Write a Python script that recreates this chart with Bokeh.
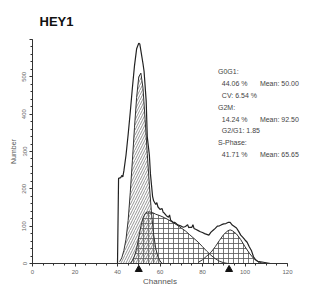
from bokeh.plotting import figure
from bokeh.models import Range1d, SingleIntervalTicker
from bokeh.embed import file_html
from bokeh.resources import INLINE

# ---- data ----
hist_ch = [38, 40, 40.5, 41.5, 42, 42.5, 43, 44, 45, 46, 47, 48, 49, 50, 50.5, 51, 52, 52.5,
           53.5, 54, 55, 55.5, 56.5, 57, 58, 58.5, 59, 60, 61, 61.5, 62, 63, 64, 64.5, 65, 66,
           67, 68, 69, 70, 71, 72, 73, 73.5, 74, 75, 75.5, 76, 77, 78, 79, 80, 81, 82, 83, 84,
           85, 86, 87, 88, 89, 90, 91, 92, 93, 94, 95, 96, 97, 98, 99, 100, 101, 102, 103, 104,
           105, 106, 108, 110, 112]
hist_n = [0, 0, 228, 230, 236, 232, 248, 290, 345, 405, 470, 530, 575, 590, 588, 570, 535, 515,
          435, 340, 290, 240, 180, 168, 158, 163, 152, 145, 147, 137, 135, 128, 124, 130, 116, 111,
          110, 105, 102, 100, 97, 99, 104, 96, 97, 97, 104, 94, 91, 88, 85, 83, 80, 78, 76, 84,
          89, 94, 100, 101, 104, 106, 107, 110, 110, 103, 99, 95, 86, 76, 70, 63, 57, 45, 35, 18,
          10, 6, 4, 2, 0]

g1_ch = [41, 42, 43, 44, 45, 46, 47, 48, 49, 50, 51, 52, 53, 54, 55, 56, 57, 58, 59, 60, 61]
g1_n = [5, 15, 35, 65, 115, 190, 275, 365, 445, 500, 510, 470, 385, 295, 210, 135, 78, 40, 18, 7, 0]

s_ch = [46, 47, 48, 49, 50, 51, 52, 53, 54, 55, 56, 57, 58, 60, 62, 64, 66, 68, 70, 72, 74, 76,
        78, 80, 82, 84, 86, 88, 90, 92]
s_n = [0, 8, 20, 40, 70, 100, 122, 134, 138, 138, 137, 135, 132, 128, 123, 117, 110, 103, 95,
       87, 77, 67, 57, 45, 33, 22, 13, 6, 2, 0]

g2_ch = [78, 80, 82, 84, 86, 88, 90, 92, 93, 94, 96, 98, 100, 102, 104, 106, 108, 110]
g2_n = [3, 10, 20, 30, 45, 62, 78, 88, 90, 88, 79, 64, 45, 28, 14, 5, 1, 0]

means = [50.0, 92.5]
x_ticks_step = 20
y_ticks_step = 100

stat_left = ["G0G1:", "44.06 %", "CV: 6.54 %", "G2M:", "14.24 %", "G2/G1: 1.85", "S-Phase:",
             "41.71 %"]
stat_right = ["Mean: 50.00", "Mean: 92.50", "Mean: 65.65"]

# ---- figure ----
p = figure(width=330, height=288, output_backend="svg", toolbar_location=None,
           x_range=Range1d(0, 120), y_range=Range1d(0, 600),
           min_border_left=32, min_border_right=43, min_border_top=38, min_border_bottom=25)
p.background_fill_color = "white"
p.border_fill_color = "white"
p.outline_line_color = None
p.grid.visible = False

p.title.text = "HEY1"
p.title.text_font = "Liberation Sans"
p.title.text_font_size = "13px"
p.title.text_font_style = "bold"
p.title.text_color = "#111111"
p.title.text_line_height = 0.6
p.title.align = "left"
p.title.offset = 7
p.title.standoff = 22

for ax in (p.xaxis[0], p.yaxis[0]):
    ax.axis_line_color = "#333333"
    ax.major_tick_line_color = "#333333"
    ax.minor_tick_line_color = "#333333"
    ax.major_tick_in = 0
    ax.major_tick_out = 3
    ax.minor_tick_in = 0
    ax.minor_tick_out = 2
    ax.major_label_text_font = "Liberation Sans"
    ax.major_label_text_font_size = "6px"
    ax.major_label_text_color = "#666666"
    ax.axis_label_text_font = "Liberation Sans"
    ax.axis_label_text_font_style = "normal"
    ax.axis_label_text_color = "#555555"

p.xaxis.ticker = SingleIntervalTicker(interval=x_ticks_step, num_minor_ticks=4)
p.yaxis.ticker = SingleIntervalTicker(interval=y_ticks_step, num_minor_ticks=5)
p.xaxis.axis_label = "Channels"
p.xaxis.axis_label_text_font_size = "8px"
p.xaxis.axis_label_standoff = 0
p.xaxis.major_label_standoff = 3
p.yaxis.axis_label = "Number"
p.yaxis.axis_label_text_font_size = "7px"
p.yaxis.axis_label_standoff = 3
p.yaxis.major_label_standoff = 3
p.yaxis.major_label_orientation = "vertical"
p.yaxis.major_label_overrides = {600: ""}

# S-phase and G2M crosshatch
p.varea(x=s_ch, y1=0, y2=s_n, fill_color=None, hatch_pattern="+", hatch_color="#555555",
        hatch_scale=5, hatch_weight=0.8)
p.varea(x=g2_ch, y1=0, y2=g2_n, fill_color=None, hatch_pattern="+", hatch_color="#555555",
        hatch_scale=5, hatch_weight=0.8)
# G0G1 diagonal hatch
p.varea(x=g1_ch, y1=0, y2=g1_n, fill_color=None, hatch_pattern="/", hatch_color="#666666",
        hatch_scale=5, hatch_weight=0.7)

p.line(g1_ch, g1_n, line_color="#333333", line_width=1)
p.line(s_ch, s_n, line_color="#333333", line_width=1)
p.line(g2_ch, g2_n, line_color="#333333", line_width=1)
p.line(hist_ch, hist_n, line_color="#222222", line_width=1.2)

p.scatter(x=means, y=[-16] * len(means), marker="triangle", size=7, color="#111111",
          level="overlay")

# statistics text block
left_x = [87.3, 89.1, 89.1, 87.3, 89.1, 89.1, 87.3, 89.1]
left_y = [515, 483, 451, 417, 387, 355, 323, 291]
right_x = [107.0, 107.0, 107.0]
right_y = [483, 387, 291]
p.text(x=left_x, y=left_y, text=stat_left, text_font={"value": "Liberation Sans"},
       text_font_size="7px", text_color="#444444", text_baseline="middle", level="overlay")
p.text(x=right_x, y=right_y, text=stat_right, text_font={"value": "Liberation Sans"},
       text_font_size="7px", text_color="#444444", text_baseline="middle", level="overlay")

open("out.html", "w").write(file_html(p, INLINE))
